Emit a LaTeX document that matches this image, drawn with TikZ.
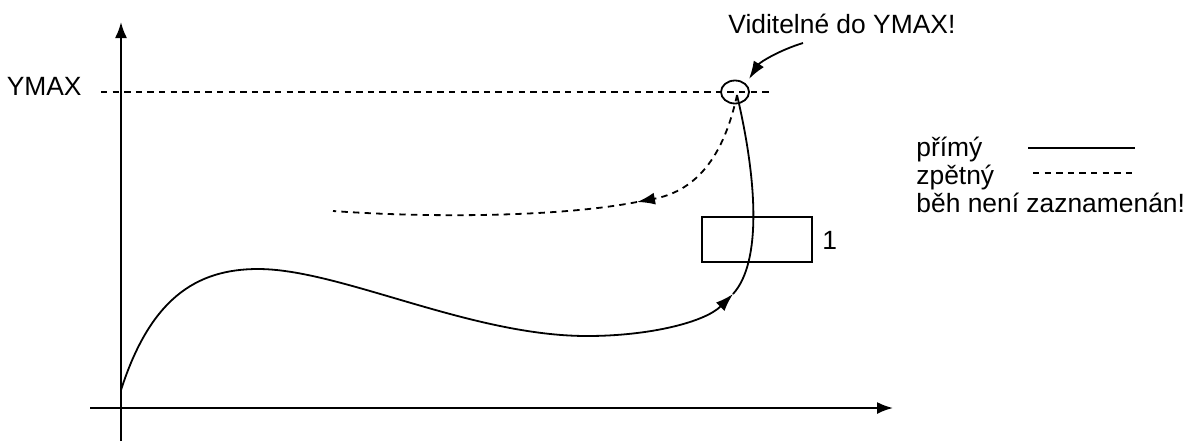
\documentclass[tikz,border=0pt]{standalone}
\usepackage{fontspec}
\setmainfont{Liberation Sans}
\usetikzlibrary{arrows.meta,shapes.geometric}
\begin{document}
\begin{tikzpicture}[x=0.5pt,y=-0.5pt,
  txt/.style={inner sep=0pt,font=\fontsize{13.2}{15}\selectfont},
  axis/.style={line width=1pt,-{Latex[length=8pt,width=6pt]}},
  curve/.style={line width=0.9pt},
  dsh/.style={line width=0.9pt,dash pattern=on 3.2pt off 2.6pt},
  tip/.style={-{Latex[length=9pt,width=6pt]}},
  boxst/.style={draw,line width=0.9pt,minimum width=55pt,minimum height=22.5pt,inner sep=0pt}]
\useasboundingbox (0,0) rectangle (1188,441);
% axes
\coordinate (yb) at (121,441);
\coordinate (yt) at (121,22);
\coordinate (xl) at (90,408);
\coordinate (xr) at (893,408);
\draw[axis] (yb) -- (yt);
\draw[axis] (xl) -- (xr);
% YMAX
\node[txt,anchor=base east] (ymax) at (82,95) {YMAX};
\coordinate (dl) at (101,92);
\coordinate (dr) at (770,92);
\draw[dsh] (dl) -- (dr);
% circle
\node[draw,ellipse,line width=0.9pt,minimum width=14pt,minimum height=11.5pt,inner sep=0pt] (circ) at (735,92) {};
\coordinate (c0) at (737,95);
% callout
\node[txt,anchor=base west] (vid) at (728,33) {Viditelné do YMAX!};
\coordinate (cs) at (803,43);
\coordinate (ce) at (749,79);
\draw[curve,tip] (cs) .. controls (780,50) and (760,62) .. (ce);
% solid curve
\coordinate (s0) at (121,390);
\coordinate (s1) at (258,269);
\coordinate (s2) at (587,336);
\coordinate (s3) at (733,294);
\draw[curve] (s0) .. controls (150,300) and (195,269) .. (s1)
  .. controls (340,269) and (470,336) .. (s2);
\draw[curve,tip] (s2) .. controls (650,336) and (705,322) .. (s3);
\draw[curve] (s3) .. controls (762,262) and (757,180) .. (c0);
% dashed curve
\coordinate (d1) at (637,202);
\coordinate (d2) at (333,211);
\draw[dsh,tip] (c0) .. controls (722,165) and (690,192) .. (d1);
\draw[dsh] (d1) .. controls (560,217) and (430,218) .. (d2);
% box
\node[boxst] (box) at (757,239.5) {};
\node[txt,anchor=base west] (one) at (822,249) {1};
% legend
\node[txt,anchor=base west] (lp) at (916,156) {přímý};
\node[txt,anchor=base west] (lz) at (916,184) {zpětný};
\node[txt,anchor=base west] (lb) at (916,212) {běh není zaznamenán!};
\coordinate (l1a) at (1028,148);
\coordinate (l1b) at (1135,148);
\coordinate (l2a) at (1033,173);
\coordinate (l2b) at (1133,173);
\draw[curve] (l1a) -- (l1b);
\draw[dsh] (l2a) -- (l2b);
\end{tikzpicture}
\end{document}
